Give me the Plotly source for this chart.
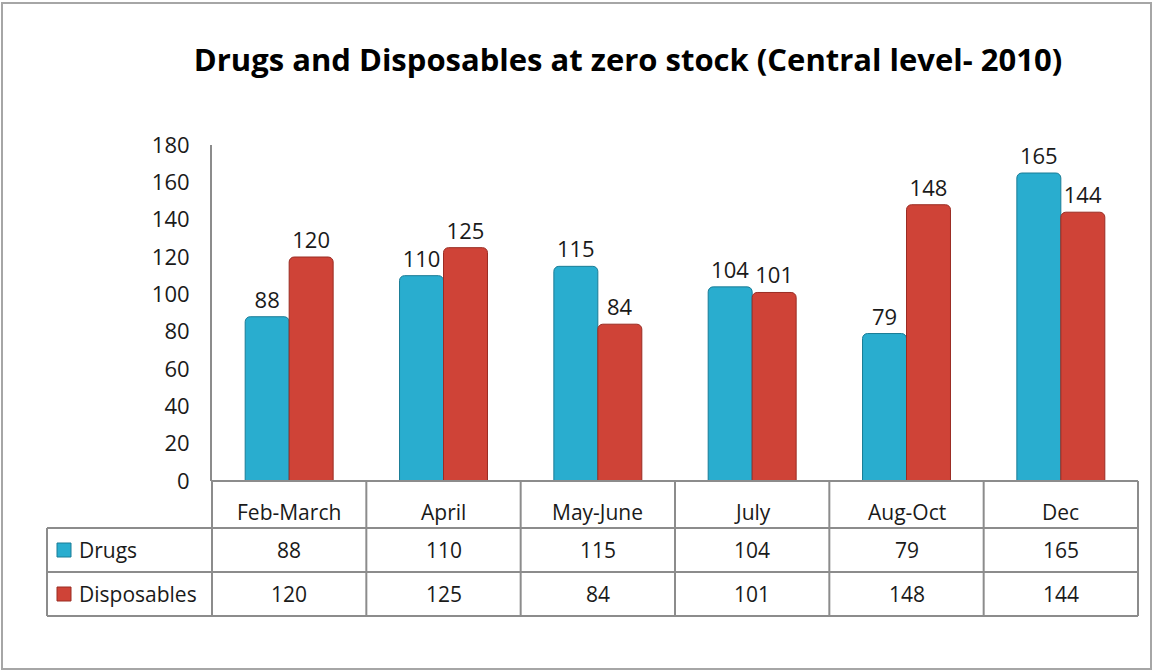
import plotly.graph_objects as go

categories = ["Feb-March", "April", "May-June", "July", "Aug-Oct", "Dec"]
drugs = [88, 110, 115, 104, 79, 165]
disposables = [120, 125, 84, 101, 148, 144]
series_names = ["Drugs", "Disposables"]
y_ticks = [0, 20, 40, 60, 80, 100, 120, 140, 160, 180]
title_text = "Drugs and Disposables at zero stock (Central level- 2010)"

FONT = "Open Sans"
TXT = "#1a1a1a"
GRID = "#8c8c8c"
colors = ["#29ADCF", "#CF4337"]
edges = ["#1A7C96", "#9A2C23"]

W, H = 1153, 671
L, R, T, B = 212, 15, 145, 190
pw, ph = W - L - R, H - T - B

def px_x(px):
    return (px - L) / pw

def px_y(py):
    return (H - B - py) / ph

fig = go.Figure()
for name, vals, c, e in zip(series_names, [drugs, disposables], colors, edges):
    fig.add_trace(go.Bar(
        x=categories, y=vals, name=name,
        marker=dict(color=c, line=dict(color=e, width=1)),
        text=[str(v) for v in vals], textposition="outside",
        textfont=dict(family=FONT, size=22, color=TXT),
        constraintext="none", cliponaxis=False,
    ))

n = len(categories)
shapes = []
annotations = []
row_lines_px = [481, 528, 572, 616]
row_y = [px_y(p) for p in row_lines_px]
left_x = px_x(47)

shapes.append(dict(type="line", xref="paper", yref="paper", x0=0, x1=1, y0=row_y[0], y1=row_y[0],
                   line=dict(color=GRID, width=2)))
for yy in row_y[1:]:
    shapes.append(dict(type="line", xref="paper", yref="paper", x0=left_x, x1=1, y0=yy, y1=yy,
                       line=dict(color=GRID, width=2)))
for i in range(n + 1):
    shapes.append(dict(type="line", xref="paper", yref="paper", x0=i / n, x1=i / n,
                       y0=row_y[0], y1=row_y[3], line=dict(color=GRID, width=2)))
shapes.append(dict(type="line", xref="paper", yref="paper", x0=left_x, x1=left_x,
                   y0=row_y[1], y1=row_y[3], line=dict(color=GRID, width=2)))

for i, cat in enumerate(categories):
    annotations.append(dict(xref="paper", yref="paper", x=(i + 0.5) / n, xanchor="center",
                            y=px_y(512), yanchor="middle", text=cat, showarrow=False,
                            font=dict(family=FONT, size=21, color=TXT)))
for r, (name, vals, c, e) in enumerate(zip(series_names, [drugs, disposables], colors, edges)):
    yc = (row_y[r + 1] + row_y[r + 2]) / 2
    for i, v in enumerate(vals):
        annotations.append(dict(xref="paper", yref="paper", x=(i + 0.5) / n, xanchor="center",
                                y=yc, yanchor="middle", text=str(v), showarrow=False,
                                font=dict(family=FONT, size=21, color=TXT)))
    annotations.append(dict(xref="paper", yref="paper", x=px_x(77), y=yc, xanchor="left",
                            yanchor="middle", text=name, showarrow=False,
                            font=dict(family=FONT, size=21, color=TXT)))
    ks = 14 / ph
    shapes.append(dict(type="rect", xref="paper", yref="paper",
                       x0=px_x(57), x1=px_x(71), y0=yc - ks / 2, y1=yc + ks / 2,
                       fillcolor=c, line=dict(color=e, width=1)))

shapes.append(dict(type="rect", xref="paper", yref="paper",
                   x0=px_x(2), x1=px_x(1151), y0=px_y(3), y1=px_y(669),
                   line=dict(color="#a6a6a6", width=2), layer="below"))

fig.update_layout(
    width=W, height=H,
    margin=dict(l=L, r=R, t=T, b=B, autoexpand=False),
    paper_bgcolor="white", plot_bgcolor="white",
    barmode="group", bargap=0.43, bargroupgap=0, barcornerradius=5,
    showlegend=False,
    title=dict(text="<b>" + title_text + "</b>", xref="container", x=628 / W, xanchor="center",
               y=1 - 60 / H, yanchor="middle",
               font=dict(family=FONT, size=31, color="#000000")),
    xaxis=dict(showticklabels=False, showline=False, showgrid=False, ticks="",
               zeroline=False, fixedrange=True),
    yaxis=dict(range=[0, 180], tickvals=y_ticks, showline=True, linecolor=GRID, linewidth=2,
               showgrid=False, zeroline=False, ticks="", ticklabelstandoff=16,
               tickfont=dict(family=FONT, size=22, color=TXT)),
    shapes=shapes, annotations=annotations,
)

fig.write_html("out.html", config={"displayModeBar": False},
               post_script="document.body.style.margin='0';")
